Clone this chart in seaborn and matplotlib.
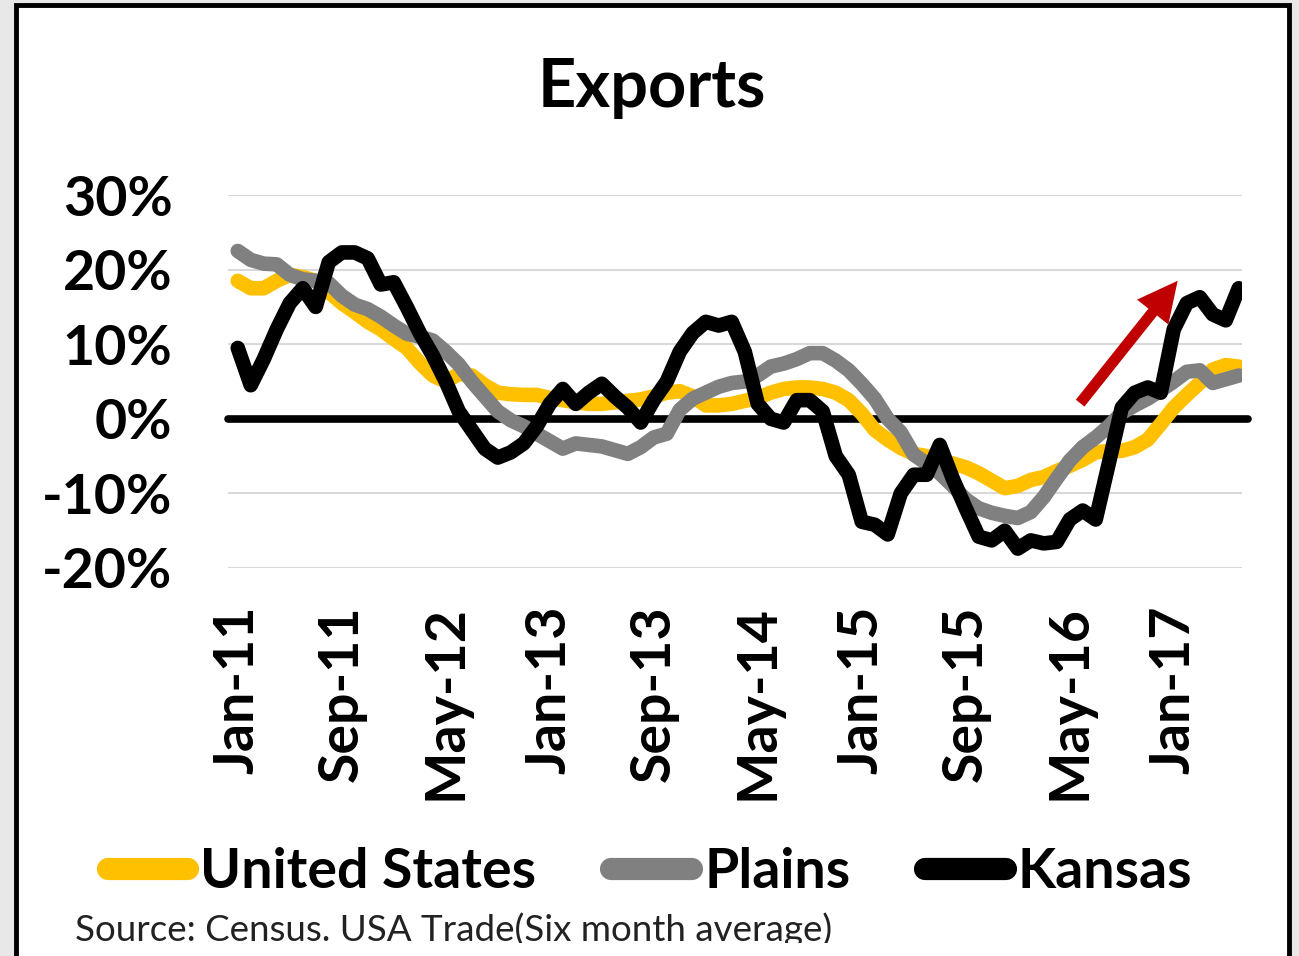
import matplotlib
matplotlib.use("Agg")
import matplotlib.pyplot as plt
import matplotlib.patches as mpatches
from matplotlib.transforms import Bbox
import numpy as np
import pandas as pd
import seaborn as sns

# monthly, Jan-11 .. Jun-17 (six month average growth, %)
months = pd.date_range("2011-01-01", "2017-06-01", freq="MS")

us = [18.5, 17.5, 17.5, 18.5, 19.3, 19.0, 18.5, 17.0, 15.5, 14.3,
      13.0, 12.0, 10.7, 9.5, 7.5, 5.8, 5.0, 6.0, 5.8, 4.5,
      3.5, 3.3, 3.2, 3.2, 2.8, 2.5, 2.2, 2.0, 2.0, 2.2,
      2.4, 2.6, 3.0, 3.5, 3.7, 3.0, 1.8, 1.8, 2.0, 2.4,
      2.8, 3.5, 4.0, 4.2, 4.2, 4.0, 3.5, 2.5, 0.7, -1.5,
      -2.8, -3.9, -4.7, -5.0, -5.5, -6.0, -6.5, -7.3, -8.3, -9.3,
      -9.0, -8.2, -7.8, -7.0, -6.3, -5.5, -4.5, -4.3, -4.3, -3.8,
      -2.8, -0.7, 1.5, 3.2, 4.8, 6.6, 7.2, 7.0]

plains = [22.5, 21.3, 20.8, 20.7, 19.3, 18.7, 18.5, 18.2, 16.5, 15.3,
          14.7, 13.7, 12.5, 11.4, 11.0, 10.5, 9.0, 7.3, 5.0, 3.0,
          1.0, -0.2, -1.0, -2.0, -3.0, -4.0, -3.3, -3.5, -3.7, -4.2,
          -4.7, -3.8, -2.5, -2.0, 1.2, 2.7, 3.5, 4.3, 4.8, 5.0,
          5.8, 7.0, 7.4, 8.0, 8.8, 8.8, 7.8, 6.5, 4.7, 2.7,
          0.0, -1.8, -4.8, -6.0, -7.3, -9.0, -10.8, -12.0, -12.6, -13.0,
          -13.3, -12.5, -10.5, -8.0, -5.6, -3.8, -2.5, -1.0, 0.8, 1.8,
          2.7, 3.8, 5.0, 6.3, 6.5, 4.8, 5.3, 5.8]

kansas = [9.5, 4.5, 8.0, 12.0, 15.5, 17.5, 15.0, 21.0, 22.3, 22.3,
          21.5, 18.0, 18.3, 15.0, 11.5, 8.5, 5.0, 1.0, -1.5, -4.0,
          -5.2, -4.5, -3.3, -1.0, 2.0, 4.0, 2.0, 3.5, 4.7, 3.0,
          1.5, -0.5, 2.5, 5.0, 9.0, 11.5, 13.0, 12.5, 13.0, 9.0,
          2.0, 0.0, -0.5, 2.5, 2.5, 1.0, -5.0, -7.5, -13.8, -14.2,
          -15.5, -10.0, -7.5, -7.5, -3.5, -8.0, -12.0, -15.8, -16.3, -15.0,
          -17.4, -16.3, -16.7, -16.5, -13.5, -12.3, -13.5, -6.0, 1.5, 3.5,
          4.2, 3.5, 12.0, 15.5, 16.3, 14.0, 13.2, 17.5]

series_names = ["United States", "Plains", "Kansas"]
series_colors = ["#ffc000", "#808080", "#000000"]
tick_every = 8

df = pd.DataFrame({
    "idx": np.tile(np.arange(len(months)), 3),
    "value": np.concatenate([us, plains, kansas]),
    "region": np.repeat(series_names, len(months)),
})

sns.set_style("white")
plt.rcParams["font.family"] = ["Lato", "DejaVu Sans"]
plt.rcParams["text.color"] = "black"
plt.rcParams["xtick.color"] = "black"
plt.rcParams["ytick.color"] = "black"

fig = plt.figure(figsize=(12.99, 9.56), dpi=100)
fig.patch.set_facecolor("#e8e8e8")
fig.patches.append(mpatches.Rectangle(
    (16 / 1299, -0.05), (1289 - 16) / 1299, 1.05 - 5 / 956,
    transform=fig.transFigure, facecolor="white", edgecolor="black",
    linewidth=3.5, zorder=-10))

ax = fig.add_axes([228 / 1299, 1 - 568 / 956, (1242 - 228) / 1299, (568 - 195) / 956])
ax.set_facecolor("none")

sns.lineplot(data=df, x="idx", y="value", hue="region", hue_order=series_names,
             palette=series_colors, linewidth=10.5, ax=ax,
             solid_capstyle="round", solid_joinstyle="round")

handles, labels = ax.get_legend_handles_labels()
ax.get_legend().remove()

ax.set_xlim(-0.75, len(months) - 0.75)
ax.set_ylim(-20, 30)
ax.set_yticks([-20, -10, 0, 10, 20, 30])
ax.set_yticklabels([f"{v}%" for v in [-20, -10, 0, 10, 20, 30]])
tick_pos = np.arange(0, len(months), tick_every)
ax.set_xticks(tick_pos)
ax.set_xticklabels([months[i].strftime("%b-%y") for i in tick_pos], rotation=90)
ax.set_xlabel("")
ax.set_ylabel("")
ax.tick_params(axis="y", length=0, pad=40, labelsize=40)
ax.tick_params(axis="x", length=0, pad=27, labelsize=40)
for lbl in ax.get_xticklabels() + ax.get_yticklabels():
    lbl.set_fontweight("bold")

for v in [-20, -10, 10, 20, 30]:
    ax.axhline(v, color="#d9d9d9", linewidth=1.5, zorder=0)
ax.axhline(0, xmin=0, xmax=1.006, color="black", linewidth=5.5, zorder=1.5, clip_on=False)
sns.despine(ax=ax, left=True, bottom=True)

ax.annotate("", xy=(72.3, 18.5), xytext=(64.8, 2.1),
            arrowprops=dict(arrowstyle="simple,head_length=0.8,head_width=0.8,tail_width=0.22",
                            mutation_scale=36, fc="#c00000", ec="none",
                            shrinkA=0, shrinkB=0), zorder=5)

fig.text(652 / 1299, 1 - 88 / 956, "Exports", ha="center", va="center",
         fontsize=48, fontweight="bold")

leg = fig.legend(handles, labels, loc="center", bbox_to_anchor=(650 / 1299, 1 - 872 / 956),
                 ncol=3, frameon=False, handlelength=1.45, handletextpad=0.22,
                 columnspacing=1.35, prop={"size": 40, "weight": "bold"})
for line in leg.get_lines():
    line.set_linewidth(16)
    line.set_solid_capstyle("round")

src = fig.text(75 / 1299, 1 - 930 / 956, "Source: Census. USA Trade(Six month average)",
               ha="left", va="center", fontsize=26.5, color="#222222")
src.set_clip_box(Bbox.from_extents(0, 956 - 943, 1299, 956))
src.set_clip_on(True)

fig.savefig("out.png", dpi=100, facecolor=fig.get_facecolor())
